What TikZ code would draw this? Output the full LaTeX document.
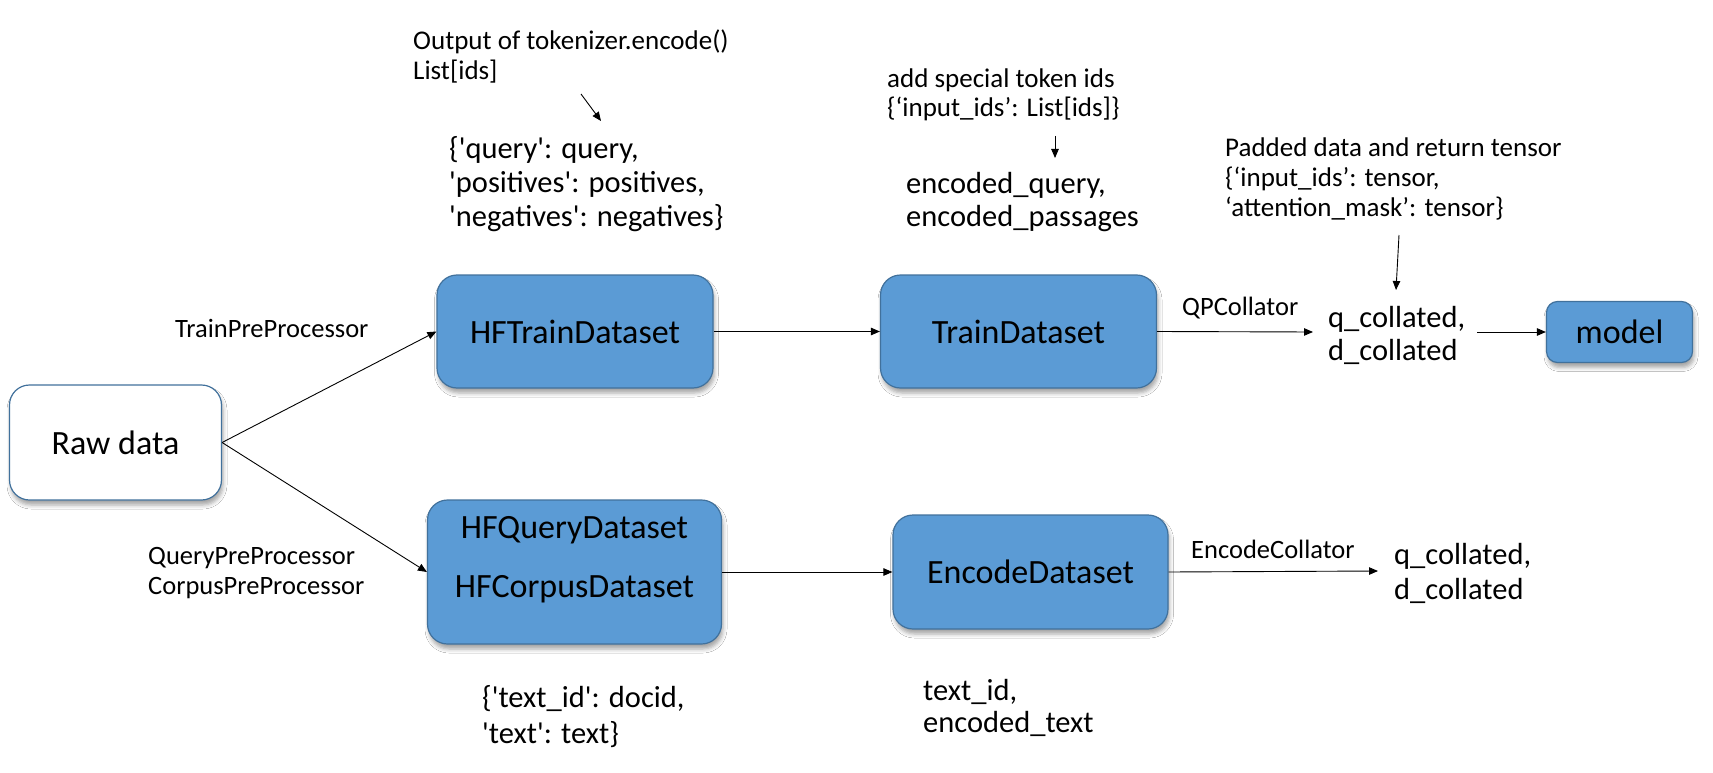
\documentclass[tikz,border=0pt]{standalone}
\usepackage{fontspec}
\setmainfont{Carlito}
\usetikzlibrary{arrows.meta,shadows.blur}
\definecolor{boxblue}{HTML}{5B9BD5}
\definecolor{boxedge}{HTML}{41719C}
\begin{document}
\begin{tikzpicture}[x=1pt,y=-1pt,
  shad/.style={blur shadow={shadow xshift=1.5pt, shadow yshift=-5pt, shadow blur radius=4pt, shadow opacity=35}},
  blk/.style={shad, draw=boxedge, line width=1.2pt, fill=boxblue, rounded corners=20pt,
    inner sep=0pt, align=center, font=\fontsize{34}{40}\selectfont},
  rawbox/.style={blk, fill=white},
  boxtxt/.style={anchor=base, inner sep=0pt, font=\fontsize{34}{40}\selectfont},
  lab/.style={anchor=base west, inner sep=0pt, font=\fontsize{26.5}{30}\selectfont},
  note/.style={anchor=base west, inner sep=0pt, font=\fontsize{27}{30}\selectfont},
  mid/.style={anchor=base west, inner sep=0pt, font=\fontsize{30.5}{34}\selectfont},
  conn/.style={draw=black, line width=0.9pt, -{Triangle[length=9pt,width=7.5pt]}}
]
\path[use as bounding box, fill=white] (0,0) rectangle (1713,773);

% boxes
\node[rawbox, minimum width=212pt, minimum height=115pt] (raw) at (115.5,442.5) {Raw data};
\node[blk, minimum width=276pt, minimum height=113pt] (hftrain) at (575,331.5) {HFTrainDataset};
\node[blk, minimum width=276pt, minimum height=113pt] (train) at (1018.5,331.5) {TrainDataset};
\node[blk, rounded corners=11pt, minimum width=146pt, minimum height=61pt] (model) at (1619.5,332) {model};
\node[blk, minimum width=294pt, minimum height=144pt] (hfq) at (574.5,572) {};
\node[boxtxt] (hfqt1) at (574.5,538) {HFQueryDataset};
\node[boxtxt] (hfqt2) at (574.5,597) {HFCorpusDataset};
\node[blk, minimum width=275pt, minimum height=114pt] (enc) at (1030.5,572) {EncodeDataset};

% labels
\node[lab] (trainpre) at (175,337) {TrainPreProcessor};
\node[lab] (querypre) at (148,564) {QueryPreProcessor};
\node[lab] (corpuspre) at (148,594) {CorpusPreProcessor};
\node[lab] (qpcoll) at (1182,315) {QPCollator};
\node[lab] (enccoll) at (1191,558) {EncodeCollator};

% notes
\node[note] (out1) at (413,50) {Output of tokenizer.encode()};
\node[note] (out2) at (413,80) {List[ids]};
\node[mid] (qd1) at (449,158) {\{\textquotesingle query\textquotesingle: query,};
\node[mid] (qd2) at (449,192) {\textquotesingle positives\textquotesingle: positives,};
\node[mid] (qd3) at (449,226) {\textquotesingle negatives\textquotesingle: negatives\}};

\node[note] (sp1) at (887,88) {add special token ids};
\node[note] (sp2) at (887,117) {\{‘input\_ids’: List[ids]\}};
\node[mid] (eq1) at (906,193) {encoded\_query,};
\node[mid] (eq2) at (906,226) {encoded\_passages};

\node[note] (pd1) at (1225,157) {Padded data and return tensor};
\node[note] (pd2) at (1225,186) {\{‘input\_ids’: tensor,};
\node[note] (pd3) at (1225,216) {‘attention\_mask’: tensor\}};

\node[mid] (qc1) at (1328,327) {q\_collated,};
\node[mid] (qc2) at (1328,360) {d\_collated};
\node[mid] (ec1) at (1394,564) {q\_collated,};
\node[mid] (ec2) at (1394,599) {d\_collated};

\node[mid] (td1) at (482,707) {\{\textquotesingle text\_id\textquotesingle: docid,};
\node[mid] (td2) at (482,743) {\textquotesingle text\textquotesingle: text\}};
\node[mid] (et1) at (923,700) {text\_id,};
\node[mid] (et2) at (923,732) {encoded\_text};

% coordinates for free arrow ends
\coordinate (a1s) at (581,94);
\coordinate (a1e) at (601,121);
\coordinate (a2s) at (1055,136);
\coordinate (a2e) at (1055,158);
\coordinate (a3s) at (1399,235);
\coordinate (a3e) at (1396,290);
\coordinate (qin) at (1313,332);
\coordinate (qout) at (1477,332);
\coordinate (ein) at (1378,571);

% connectors
\draw[conn] (raw.east) -- (hftrain.west);
\draw[conn] (raw.east) -- (hfq.west);
\draw[conn] (hftrain.east) -- (train.west);
\draw[conn] (hfq.east) -- (enc.west);
\draw[conn] (train.east) -- (qin);
\draw[conn] (qout) -- (model.west);
\draw[conn] (enc.east) -- (ein);
\draw[conn] (a1s) -- (a1e);
\draw[conn] (a2s) -- (a2e);
\draw[conn] (a3s) -- (a3e);
\end{tikzpicture}
\end{document}
